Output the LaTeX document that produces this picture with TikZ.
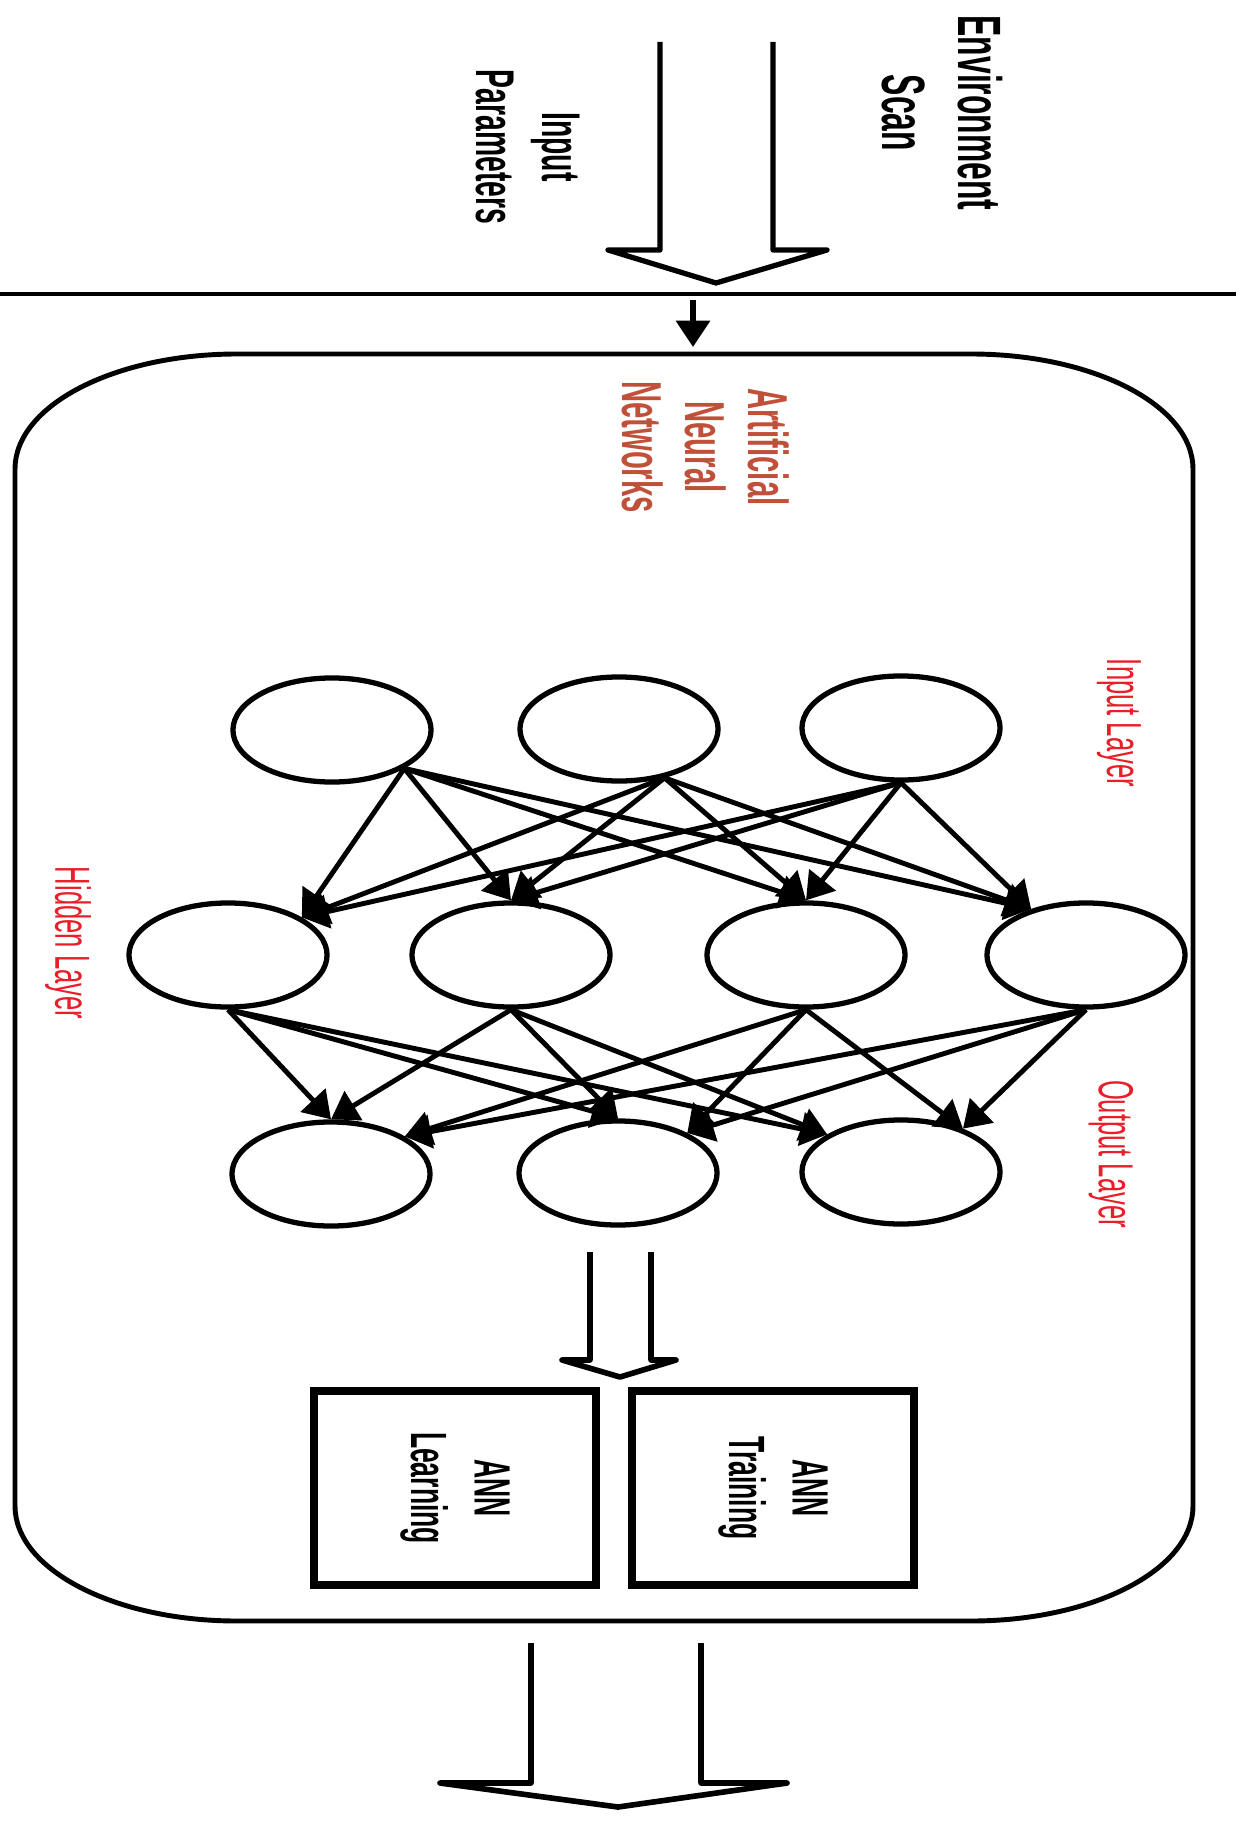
\documentclass[tikz,border=0pt]{standalone}
\usepackage{fontspec}
\setmainfont{Liberation Sans}
\usepackage{tikz}
\usetikzlibrary{shapes.geometric,arrows.meta}
\definecolor{annbrown}{RGB}{192,80,58}
\definecolor{layred}{RGB}{232,30,40}
\newcommand{\sqz}[1]{\scalebox{0.52}[1]{#1}}

\begin{document}
\begin{tikzpicture}[x=0.01cm,y=-0.01cm,
    neuron/.style={ellipse,draw,line width=1.5pt,minimum width=1.98cm,minimum height=1.04cm,inner sep=0pt},
    annbox/.style={draw,line width=2.4pt,rotate=-90,minimum width=1.94cm,minimum height=2.82cm,align=center,inner sep=0pt,font=\fontsize{14.5}{18}\selectfont\bfseries},
    blabel/.style={rotate=-90,align=center,inner sep=0pt},
    lay/.style={rotate=-90,inner sep=0pt,text=layred,font=\fontsize{14}{17}\selectfont},
    wire/.style={->,line width=1.4pt},
    >={Triangle[length=7.5pt,width=9.5pt]}]
        \useasboundingbox(0,0)rectangle(1244,1831);
        \draw(942,113)node[blabel,font=\fontsize{17.4}{21.6}\selectfont\bfseries](env){\sqz{Environment}\\\sqz{Scan}};
        \draw(528,147)node[blabel,font=\fontsize{15.5}{19}\selectfont\bfseries](inpar){\sqz{Input}\\\sqz{Parameters}};
        \draw(706,447)node[blabel,text=annbrown,font=\fontsize{16}{17.9}\selectfont\bfseries](ann){\sqz{Artificial}\\\sqz{Neural}\\\sqz{Networks}};
        \draw(1119,723)node[lay](linput){\sqz{Input Layer}};
        \draw(68,943)node[lay](lhidden){\sqz{Hidden Layer}};
        \draw(1111,1154)node[lay](loutput){\sqz{Output Layer}};
        \draw[line width=1.5pt,line join=round](660,42)--(660,250)--(608,250)--(716,283)--(827,250)--(773,250)--(773,42);
        \draw[line width=1.4pt](0,294)--(1236,294);
        \coordinate(s1)at(693,300);
        \coordinate(s2)at(693,347);
        \draw[->,line width=1.5pt](s1)--(s2);
        \draw[line width=1.4pt](237,354)--(971,354)
            ..controls(1093.5,354)and(1193,405.5)..(1193,469)--(1193,1506)
            ..controls(1193,1569.5)and(1093.5,1621)..(971,1621)--(237,1621)
            ..controls(114.5,1621)and(15,1569.5)..(15,1506)--(15,469)
            ..controls(15,405.5)and(114.5,354)..(237,354)--cycle;
        \node[neuron](in1)at(332,730){};
        \node[neuron](in2)at(619,729){};
        \node[neuron](in3)at(901,728){};
        \node[neuron](hid1)at(228,955){};
        \node[neuron](hid2)at(511,955){};
        \node[neuron](hid3)at(806,955){};
        \node[neuron](hid4)at(1086,955){};
        \node[neuron](out1)at(331,1174){};
        \node[neuron](out2)at(618,1173){};
        \node[neuron](out3)at(901,1172){};
        \draw[wire](in1.-28)--(hid1.27);
        \draw[wire](in1.-28)--(hid2.north);
        \draw[wire](in1.-28)--(hid3.north);
        \draw[wire](in1.-28)--(hid4.140);
        \draw[wire](in2.-47)--(hid1.27);
        \draw[wire](in2.-47)--(hid2.north);
        \draw[wire](in2.-47)--(hid3.north);
        \draw[wire](in2.-47)--(hid4.140);
        \draw[wire](in3.south)--(hid1.27);
        \draw[wire](in3.south)--(hid2.north);
        \draw[wire](in3.south)--(hid3.north);
        \draw[wire](in3.south)--(hid4.140);
        \draw[wire](hid1.south)--(out1.north);
        \draw[wire](hid1.south)--(out2.north);
        \draw[wire](hid1.south)--(out3.153);
        \draw[wire](hid2.south)--(out1.north);
        \draw[wire](hid2.south)--(out2.north);
        \draw[wire](hid2.south)--(out3.153);
        \draw[wire](hid3.south)--(out1.27);
        \draw[wire](hid3.south)--(out2.30);
        \draw[wire](hid3.south)--(out3.35);
        \draw[wire](hid4.south)--(out1.27);
        \draw[wire](hid4.south)--(out2.30);
        \draw[wire](hid4.south)--(out3.35);
        \draw[line width=1.6pt,line join=round](590,1252)--(590,1360)--(562,1360)--(620,1377)--(676,1360)--(651,1360)--(651,1252);
        \draw(455,1488)node[annbox](learn){\sqz{ANN}\\\sqz{Learning}};
        \draw(773,1488)node[annbox](train){\sqz{ANN}\\\sqz{Training}};
        \draw[line width=1.6pt,line join=round](531,1643)--(531,1783)--(440,1783)--(618,1807)--(787,1783)--(701,1783)--(701,1643);
\end{tikzpicture}
\end{document}
